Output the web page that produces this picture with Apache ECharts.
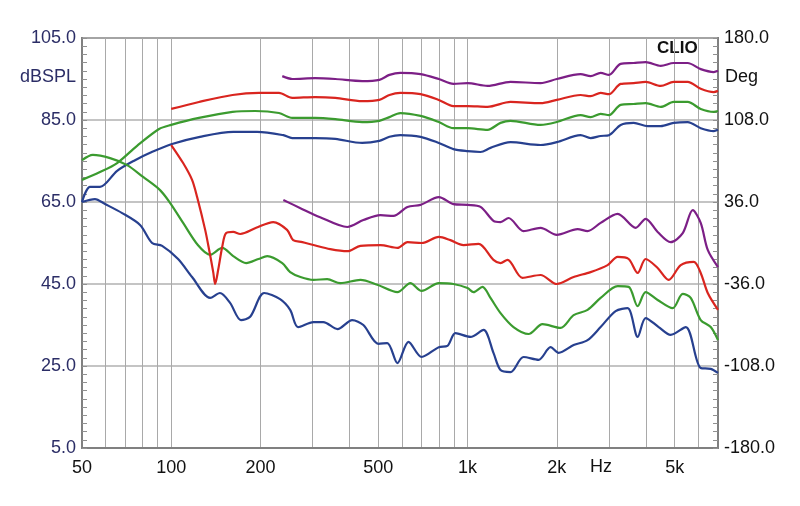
<!DOCTYPE html>
<html><head><meta charset="utf-8">
<script src="https://cdn.jsdelivr.net/npm/echarts@6/dist/echarts.min.js"></script>
<style>html,body{margin:0;padding:0;background:#fff}#c{width:800px;height:506px}</style>
</head><body><div id="c"></div>
<script>
// Frequency axis (Hz)
const xMinHz = 50;
const xMaxHz = 7000;
const gridFreqs = [50,60,70,80,90,100,200,300,400,500,600,700,800,900,1000,2000,3000,4000,5000,6000,7000];
const xLabelFreqs = [50,100,200,500,1000,2000,5000];
// Left axis (dBSPL) and right axis (Deg)
const dbTicks = [5,25,45,65,85,105];
const degTicks = [-180,-108,-36,36,108,180];

// Upper curves [Hz, dB]
const upperPurple = [[237,95.7],[256,95.0],[306,95.2],[358,95.0],[441,94.5],[504,94.8],[545,96.0],[593,96.5],[694,96.2],[800,95.0],[896,93.8],[1000,94.0],[1168,93.3],[1396,94.3],[1763,94.0],[2000,95.0],[2407,96.2],[2601,95.7],[2812,96.5],[3000,96.0],[3286,98.7],[3635,98.9],[3990,99.1],[4486,98.2],[4961,98.9],[5530,98.9],[6120,97.4],[6774,96.7],[7000,97.0]];
const upperRed = [[100,87.7],[124,89.4],[161,91.1],[198,91.6],[231,91.6],[256,90.4],[306,90.6],[358,90.4],[441,89.6],[504,89.9],[545,91.1],[593,91.6],[694,91.3],[800,89.9],[896,88.4],[1000,88.4],[1168,88.2],[1396,89.4],[1763,89.1],[2000,89.9],[2407,91.1],[2601,90.8],[2812,91.6],[3000,91.3],[3286,93.8],[3635,94.0],[3990,94.3],[4486,93.3],[4961,94.3],[5530,94.3],[6120,92.6],[6774,91.8],[7000,92.1]];
const upperGreen = [[50,70.4],[57.5,72.3],[65.7,74.5],[76.7,78.7],[91,82.8],[100,83.8],[124,85.5],[161,87.0],[192,87.2],[231,86.7],[256,85.5],[306,85.5],[358,85.2],[441,84.5],[504,84.8],[545,85.7],[593,86.7],[694,86.0],[800,84.5],[896,83.0],[1000,83.0],[1168,82.6],[1292,84.3],[1396,84.8],[1763,83.8],[2000,84.5],[2407,86.2],[2601,85.7],[2812,86.5],[3000,86.2],[3286,88.7],[3635,88.9],[3990,89.1],[4486,88.2],[4961,89.4],[5530,89.4],[6120,87.7],[6774,87.0],[7000,87.2]];
const upperBlue = [[50,65.0],[53.2,68.7],[57.5,68.7],[65.7,72.6],[75.5,75.2],[84.9,77.0],[100,79.1],[125,80.9],[162,82.1],[195,82.1],[239,81.3],[256,80.6],[306,80.6],[358,80.4],[441,79.4],[504,79.9],[545,80.9],[593,81.3],[694,80.9],[800,79.4],[896,77.9],[1000,77.4],[1106,77.2],[1195,78.2],[1396,79.6],[1763,78.9],[2000,79.6],[2407,81.3],[2601,80.6],[2812,81.1],[3000,81.3],[3286,83.8],[3635,84.3],[4053,83.5],[4486,83.5],[4961,84.3],[5530,84.5],[6120,83.0],[6774,82.3],[7000,82.6]];

// Lower curves [Hz, dB]
const lowerPurple = [[239,65.5],[273,63.5],[318,61.3],[393,58.9],[445,60.6],[508,61.8],[562,61.6],[627,63.8],[694,64.3],[800,66.2],[896,64.5],[1000,64.3],[1106,63.8],[1223,60.4],[1292,60.1],[1375,61.1],[1545,57.9],[1763,58.7],[2000,57.0],[2352,58.4],[2541,57.9],[2812,59.9],[3210,62.1],[3692,58.7],[3990,60.9],[4380,57.7],[4845,55.2],[5322,57.4],[5752,63.0],[6120,59.9],[6464,53.3],[7000,49.1]];
const lowerRed = [[100,78.9],[109.7,74.5],[117.6,70.4],[122.3,66.2],[130.2,58.2],[134.3,53.3],[138.6,47.9],[140.7,45.0],[144,48.4],[148.6,54.0],[153,57.4],[161.9,57.7],[171,57.2],[193.5,58.7],[221,60.1],[246,58.2],[258,55.7],[277,55.2],[302,54.5],[344,53.5],[393,53.0],[435,54.3],[508,54.5],[580,53.8],[627,55.2],[700,55.0],[800,56.5],[875,55.7],[969,54.5],[1089,54.8],[1223,50.9],[1292,50.1],[1364,50.9],[1532,46.5],[1763,47.2],[2000,45.0],[2280,46.7],[2601,47.9],[2968,49.6],[3210,51.6],[3497,51.1],[3750,47.7],[3990,51.1],[4380,48.9],[4770,46.0],[5240,49.6],[5797,50.4],[6120,47.7],[6464,42.8],[7000,38.7]];
const lowerGreen = [[50,75.2],[54.4,76.5],[62.2,75.7],[71,74.0],[80.4,71.1],[91.7,67.9],[99.1,64.8],[109.7,59.9],[123,54.5],[135.3,52.1],[148.6,53.8],[161.9,51.8],[179,50.1],[197,51.1],[211,51.8],[237,50.1],[252,47.9],[273,46.7],[302,46.0],[336,46.2],[372,45.2],[435,46.0],[496,44.8],[580,43.0],[641,45.2],[700,43.3],[800,45.2],[896,45.0],[1000,44.0],[1047,43.0],[1123,44.3],[1195,41.6],[1292,37.9],[1429,34.5],[1606,32.8],[1790,35.2],[2060,34.3],[2280,37.4],[2541,38.7],[2812,41.6],[3210,44.5],[3497,44.3],[3750,39.6],[3990,43.0],[4380,41.1],[4922,39.1],[5322,42.6],[5663,41.6],[6120,36.2],[6616,34.5],[7000,31.3]];
const lowerBlue = [[50,65.0],[55.3,65.7],[59.8,64.5],[68.3,62.3],[78.5,59.4],[86.2,55.0],[93.2,54.3],[105.5,51.1],[117.6,46.7],[135.3,41.6],[146,42.8],[158,40.4],[172,36.2],[184.7,37.0],[206,42.8],[233,41.3],[252,38.7],[268,34.5],[302,35.7],[326,35.7],[364,34.0],[408,36.2],[445,35.0],[500,30.4],[536,30.6],[580,25.7],[632,30.9],[700,27.2],[800,29.6],[855,29.9],[910,33.0],[1023,32.1],[1132,33.8],[1223,28.2],[1292,24.0],[1396,23.5],[1545,27.2],[1736,26.5],[1906,29.6],[2029,28.2],[2280,30.1],[2541,31.3],[2812,34.5],[3160,38.4],[3469,39.1],[3750,32.1],[3990,36.7],[4414,34.5],[4845,32.6],[5447,34.5],[6120,24.5],[6616,24.3],[7000,23.3]];

const BLUE = '#27408f', GREEN = '#3b9b2f', RED = '#d9251f', PURPLE = '#7c1f86';
const lg = Math.log10;
const dbMinor = []; for (let v = 5; v <= 105; v += 2) dbMinor.push(v);
const degMinor = dbMinor.map(v => (v - 5) * 3.6 - 180);

function mk(name, data, color) {
  return {
    name, type: 'line', xAxisIndex: 0, yAxisIndex: 0,
    data: data.map(p => [lg(p[0]), p[1]]),
    showSymbol: false, smooth: 0.3, silent: true,
    lineStyle: { color, width: 2.2 }, itemStyle: { color }
  };
}

const font = "'Liberation Sans', Arial, sans-serif";
const chart = echarts.init(document.getElementById('c'), null, { renderer: 'canvas' });
chart.setOption({
  animation: false,
  backgroundColor: '#ffffff',
  grid: { left: 82, top: 38, right: 82, bottom: 58, show: true, borderColor: '#808080', borderWidth: 2, containLabel: false },
  xAxis: [{
    type: 'value', min: lg(xMinHz), max: lg(xMaxHz),
    axisLine: { show: true, onZero: false, lineStyle: { color: '#808080', width: 2 } },
    axisTick: { show: false, customValues: gridFreqs.map(lg) },
    splitLine: { show: true, lineStyle: { color: '#a9a9a9', width: 1 } },
    axisLabel: {
      customValues: xLabelFreqs.map(lg), color: '#111', fontSize: 18, fontFamily: font, margin: 11,
      formatter: v => { const f = Math.round(Math.pow(10, v)); return f >= 1000 ? (f / 1000) + 'k' : String(f); }
    }
  }],
  yAxis: [{
    type: 'value', position: 'left', min: 5, max: 105,
    axisLine: { show: true, onZero: false, lineStyle: { color: '#808080', width: 2 } },
    axisTick: { show: false, customValues: dbTicks },
    splitLine: { show: true, lineStyle: { color: '#b0b0b0', width: 1.5 } },
    axisLabel: { customValues: dbTicks, color: '#2b2d66', fontSize: 18, fontFamily: font, margin: 6, formatter: v => v.toFixed(1) }
  }, {
    type: 'value', position: 'left', min: 5, max: 105,
    axisLine: { show: false, onZero: false }, splitLine: { show: false }, axisLabel: { show: false },
    axisTick: { show: true, inside: true, length: 5, customValues: dbMinor, lineStyle: { color: '#909090' } }
  }, {
    type: 'value', position: 'right', min: -180, max: 180,
    axisLine: { show: true, onZero: false, lineStyle: { color: '#808080', width: 2 } },
    axisTick: { show: false, customValues: degTicks },
    splitLine: { show: false },
    axisLabel: { customValues: degTicks, color: '#111', fontSize: 18, fontFamily: font, margin: 6, formatter: v => v.toFixed(1) }
  }, {
    type: 'value', position: 'right', min: -180, max: 180,
    axisLine: { show: false, onZero: false }, splitLine: { show: false }, axisLabel: { show: false },
    axisTick: { show: true, inside: true, length: 5, customValues: degMinor, lineStyle: { color: '#909090' } }
  }],
  graphic: [
    { type: 'text', left: 20, top: 68, style: { text: 'dBSPL', fill: '#2b2d66', font: '18px ' + font } },
    { type: 'text', left: 725, top: 68, style: { text: 'Deg', fill: '#111', font: '18px ' + font } },
    { type: 'text', left: 590, top: 458, style: { text: 'Hz', fill: '#111', font: '18px ' + font } },
    { type: 'text', left: 657, top: 40, style: { text: 'CLIO', fill: '#111', font: 'bold 17px ' + font } }
  ],
  series: [
    mk('upperBlue', upperBlue, BLUE),
    mk('upperGreen', upperGreen, GREEN),
    mk('upperRed', upperRed, RED),
    mk('upperPurple', upperPurple, PURPLE),
    mk('lowerBlue', lowerBlue, BLUE),
    mk('lowerGreen', lowerGreen, GREEN),
    mk('lowerRed', lowerRed, RED),
    mk('lowerPurple', lowerPurple, PURPLE)
  ]
});
</script></body></html>
